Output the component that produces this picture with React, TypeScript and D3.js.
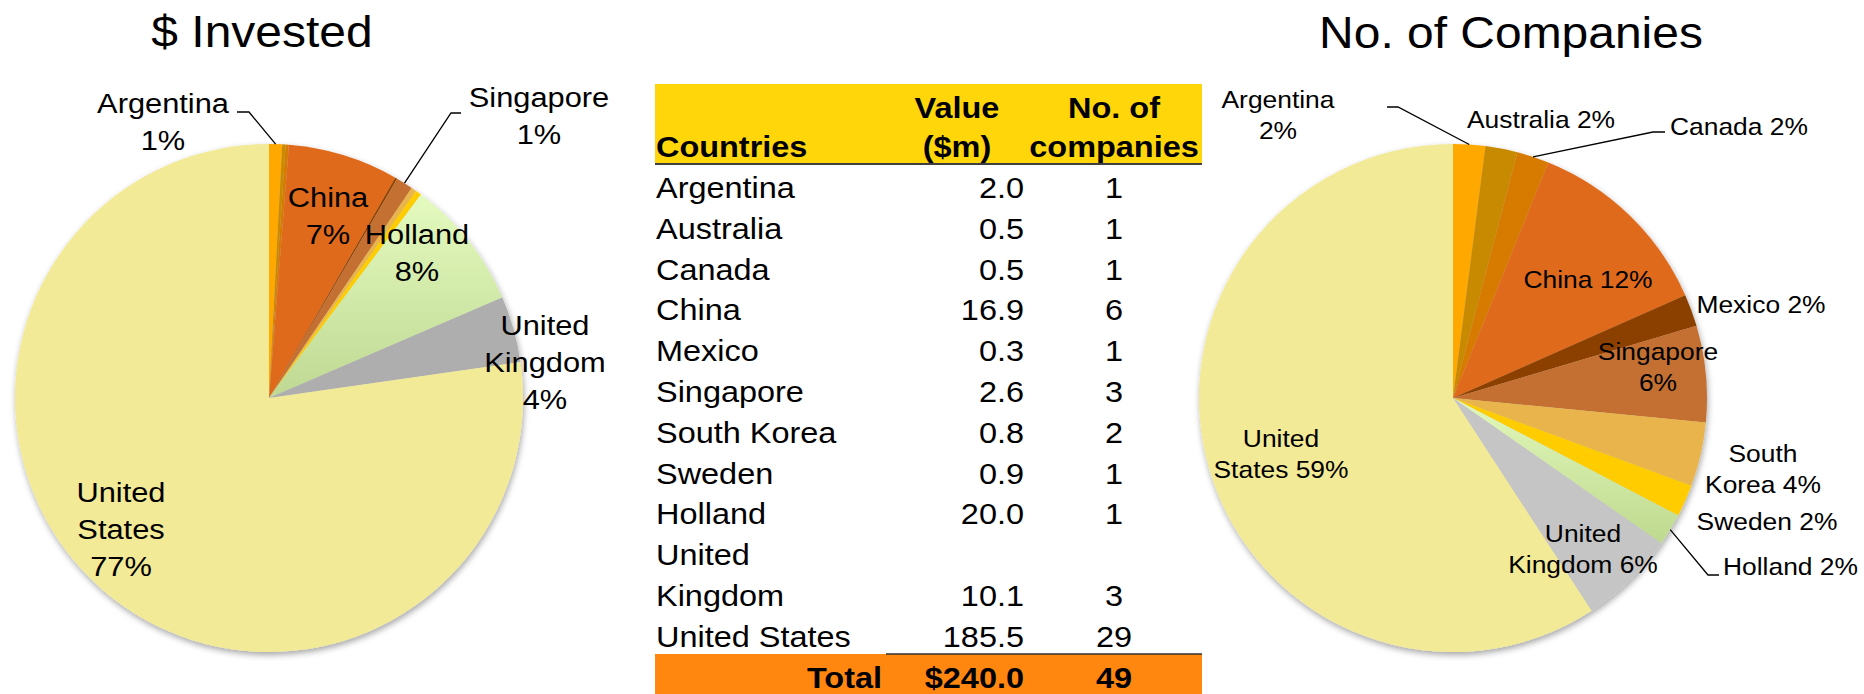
import * as d3 from "d3";

// table / pie data
const countries = [
  "Argentina",
  "Australia",
  "Canada",
  "China",
  "Mexico",
  "Singapore",
  "South Korea",
  "Sweden",
  "Holland",
  "United Kingdom",
  "United States",
];
const valueM = [2.0, 0.5, 0.5, 16.9, 0.3, 2.6, 0.8, 0.9, 20.0, 10.1, 185.5];
const companyCounts = [1, 1, 1, 6, 1, 3, 2, 1, 1, 3, 29];
const totalRow = ["Total", "$240.0", "49"];
const headerTop = ["", "Value", "No. of"];
const headerBottom = ["Countries", "($m)", "companies"];

const investedColors = [
  "#FFA800", "#C88A00", "#D67A00", "#E06B1B", "#8C3F00", "#C47030",
  "#E8B44B", "#FFCC00", "url(#hol-left)", "#AEAEAE", "#F2EA96",
];
const companyColors = [
  "#FFA800", "#C88A00", "#D67A00", "#E06B1B", "#8C3F00", "#C47030",
  "#E8B44B", "#FFCC00", "url(#hol-right)", "#C5C5C5", "#F2EA96",
];

const FONT = "'Liberation Sans', Arial, Helvetica, sans-serif";
const STRETCH = 1.1; // the source text is a bit wider than Arial
const pct = d3.format(".0%");

type Label = {
  i: number;
  x: number;
  y: number;
  lines: string[];
  anchor?: "start" | "middle" | "end";
  elbow?: [number, number];
  tail?: [number, number];
};

const investedLabels: Label[] = [
  { i: 0, x: 163, y: 113, lines: ["Argentina", "{p}"], elbow: [249, 112], tail: [237, 112] },
  { i: 5, x: 539, y: 107, lines: ["Singapore", "{p}"], elbow: [451, 113], tail: [461, 113] },
  { i: 3, x: 328, y: 207, lines: ["China", "{p}"] },
  { i: 8, x: 417, y: 244, lines: ["Holland", "{p}"] },
  { i: 9, x: 545, y: 335, lines: ["United", "Kingdom", "{p}"] },
  { i: 10, x: 121, y: 502, lines: ["United", "States", "{p}"] },
];

const companyLabels: Label[] = [
  { i: 0, x: 1278, y: 108, lines: ["Argentina", "{p}"], elbow: [1398, 107], tail: [1387, 107] },
  { i: 1, x: 1541, y: 128, lines: ["Australia {p}"] },
  { i: 2, x: 1670, y: 135, lines: ["Canada {p}"], anchor: "start", elbow: [1653, 132], tail: [1665, 132] },
  { i: 3, x: 1588, y: 288, lines: ["China {p}"] },
  { i: 4, x: 1761, y: 313, lines: ["Mexico {p}"] },
  { i: 5, x: 1658, y: 360, lines: ["Singapore", "{p}"] },
  { i: 6, x: 1763, y: 462, lines: ["South", "Korea {p}"] },
  { i: 7, x: 1767, y: 530, lines: ["Sweden {p}"] },
  { i: 8, x: 1723, y: 575, lines: ["Holland {p}"], anchor: "start", elbow: [1708, 575], tail: [1719, 575] },
  { i: 9, x: 1583, y: 542, lines: ["United", "Kingdom {p}"] },
  { i: 10, x: 1281, y: 447, lines: ["United", "States {p}"] },
];

interface PieProps {
  values: number[];
  colors: string[];
  cx: number;
  cy: number;
  r: number;
  labels: Label[];
  fontSize: number;
  lineH: number;
}

function Pie({ values, colors, cx, cy, r, labels, fontSize, lineH }: PieProps) {
  const arcs = d3.pie<number>().sort(null).value((d) => d)(values);
  const arc = d3.arc<d3.PieArcDatum<number>>().innerRadius(0).outerRadius(r);
  const total = d3.sum(values);
  const edge = (a: number) => [cx + r * Math.sin(a), cy - r * Math.cos(a)];

  return (
    <g>
      <g filter="url(#pie-shadow)" transform={`translate(${cx},${cy})`}>
        {arcs.map((a, i) => (
          <path key={i} d={arc(a) || ""} fill={colors[i]} />
        ))}
      </g>
      {labels.map((lb, k) => {
        const a = arcs[lb.i];
        const p = pct(values[lb.i] / total);
        const [ex, ey] = edge((a.startAngle + a.endAngle) / 2);
        return (
          <g key={k}>
            {lb.elbow && lb.tail && (
              <polyline
                points={`${ex},${ey} ${lb.elbow[0]},${lb.elbow[1]} ${lb.tail[0]},${lb.tail[1]}`}
                fill="none"
                stroke="#000"
                strokeWidth={1.3}
              />
            )}
            {lb.lines.map((ln, j) => (
              <text
                key={j}
                transform={`translate(${lb.x},${lb.y + j * lineH}) scale(${STRETCH},1)`}
                textAnchor={lb.anchor || "middle"}
                fontSize={fontSize}
                fontFamily={FONT}
                fill="#000"
              >
                {ln.replace("{p}", p)}
              </text>
            ))}
          </g>
        );
      })}
    </g>
  );
}

function Cell({ x, y, anchor, children }: { x: number; y: number; anchor?: string; children: any }) {
  return (
    <text transform={`translate(${x},${y}) scale(${STRETCH},1)`} textAnchor={anchor || "start"}>
      {children}
    </text>
  );
}

function DataTable() {
  const left = 655;
  const right = 1202;
  const colCountry = 656;
  const colValue = 1024;
  const colHeadValue = 957;
  const colCompanies = 1114;

  // one baseline per text line
  const lineY = d3.scaleLinear().domain([0, 1]).range([198, 238.8]);

  let line = 0;
  const rows = countries.map((c, i) => {
    const parts = c === "United Kingdom" ? ["United", "Kingdom"] : [c];
    const start = line;
    line += parts.length;
    return { parts, start, last: start + parts.length - 1, i };
  });
  const totalY = lineY(line);

  return (
    <g fontFamily={FONT} fontSize={29.5} fill="#000">
      <rect x={left} y={84} width={right - left} height={80} fill="#FFD60A" />
      <line x1={left} x2={right} y1={164} y2={164} stroke="#3F3F3F" strokeWidth={2} />
      <g fontWeight="bold">
        <Cell x={colCountry} y={157}>{headerBottom[0]}</Cell>
        <Cell x={colHeadValue} y={118} anchor="middle">{headerTop[1]}</Cell>
        <Cell x={colHeadValue} y={157} anchor="middle">{headerBottom[1]}</Cell>
        <Cell x={colCompanies} y={118} anchor="middle">{headerTop[2]}</Cell>
        <Cell x={colCompanies} y={157} anchor="middle">{headerBottom[2]}</Cell>
      </g>
      {rows.map((r) => (
        <g key={r.i}>
          {r.parts.map((p, j) => (
            <Cell key={j} x={colCountry} y={lineY(r.start + j)}>{p}</Cell>
          ))}
          <Cell x={colValue} y={lineY(r.last)} anchor="end">
            {valueM[r.i].toFixed(1)}
          </Cell>
          <Cell x={colCompanies} y={lineY(r.last)} anchor="middle">
            {companyCounts[r.i]}
          </Cell>
        </g>
      ))}
      <rect x={left} y={654} width={right - left} height={40} fill="#FF870F" />
      <line x1={886} x2={right} y1={654} y2={654} stroke="#333" strokeWidth={1.6} />
      <g fontWeight="bold">
        <Cell x={882} y={totalY} anchor="end">{totalRow[0]}</Cell>
        <Cell x={colValue} y={totalY} anchor="end">{totalRow[1]}</Cell>
        <Cell x={colCompanies} y={totalY} anchor="middle">{totalRow[2]}</Cell>
      </g>
    </g>
  );
}

export default function App() {
  return (
    <svg
      width={1864}
      height={694}
      style={{ position: "absolute", left: 0, top: 0, display: "block", background: "#fff" }}
    >
      <defs>
        <filter id="pie-shadow" x="-10%" y="-10%" width="120%" height="125%">
          <feDropShadow dx="1" dy="3" stdDeviation="3" floodColor="#000" floodOpacity="0.35" />
        </filter>
        <linearGradient id="hol-left" x1="0" y1="0" x2="0" y2="1">
          <stop offset="0%" stopColor="#E4FABF" />
          <stop offset="100%" stopColor="#BFD993" />
        </linearGradient>
        <linearGradient id="hol-right" x1="0" y1="0" x2="0" y2="1">
          <stop offset="0%" stopColor="#E2F8BA" />
          <stop offset="100%" stopColor="#BED98F" />
        </linearGradient>
      </defs>
      <rect width={1864} height={694} fill="#fff" />

      <text
        transform="translate(262,47) scale(1.09,1)"
        textAnchor="middle"
        fontSize={44}
        fontFamily={FONT}
      >
        $ Invested
      </text>
      <text
        transform="translate(1511,48) scale(1.09,1)"
        textAnchor="middle"
        fontSize={44}
        fontFamily={FONT}
      >
        No. of Companies
      </text>

      <Pie
        values={valueM}
        colors={investedColors}
        cx={269}
        cy={398}
        r={254}
        labels={investedLabels}
        fontSize={28}
        lineH={37}
      />
      <DataTable />
      <Pie
        values={companyCounts}
        colors={companyColors}
        cx={1453}
        cy={398}
        r={254}
        labels={companyLabels}
        fontSize={24}
        lineH={30.5}
      />
    </svg>
  );
}
